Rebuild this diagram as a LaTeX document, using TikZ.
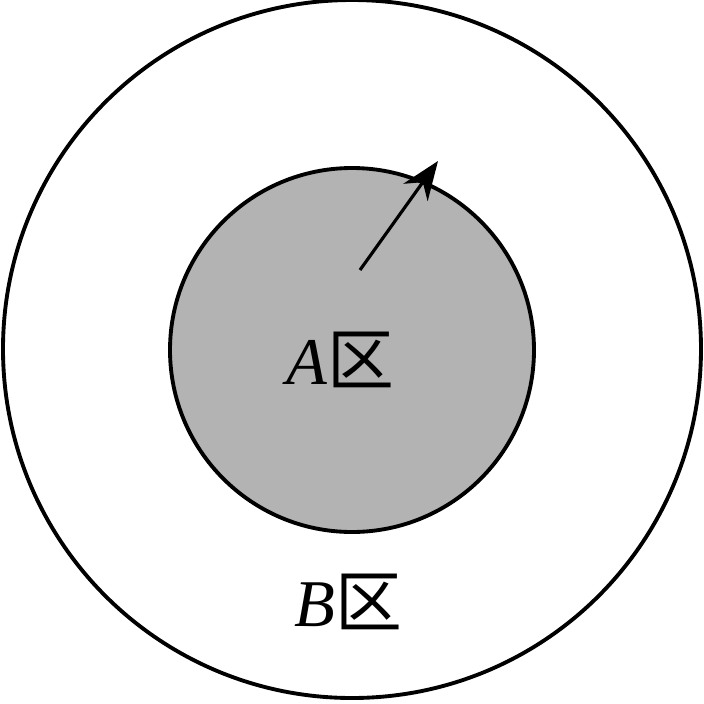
\documentclass[tikz,border=0pt]{standalone}
\usepackage{fontspec}
\setmainfont{Liberation Serif}
\newfontfamily\cjk{Noto Sans CJK SC}
\usetikzlibrary{arrows.meta}
\begin{document}
\begin{tikzpicture}[x=0.02cm,y=-0.02cm,
  ring/.style={draw=black,line width=2.2pt},
  lbl/.style={font=\fontsize{38}{40}\selectfont}]
\useasboundingbox (0,0) rectangle (704,704);
\node[ring,circle,minimum size=698*0.02cm,inner sep=0pt] (outer) at (352,349) {};
\node[ring,circle,fill={rgb,255:red,179;green,179;blue,179},minimum size=364*0.02cm,inner sep=0pt] (inner) at (352,350) {};
\coordinate (s) at (360,270);
\coordinate (e) at (438,161);
\draw[line width=1.8pt,-{Stealth[length=22pt,width=17pt]}] (s) -- (e);
\node[lbl] (A) at (340,360) {\textit{A}{\cjk 区}};
\node[lbl] (B) at (348,602) {\textit{B}{\cjk 区}};
\end{tikzpicture}
\end{document}
